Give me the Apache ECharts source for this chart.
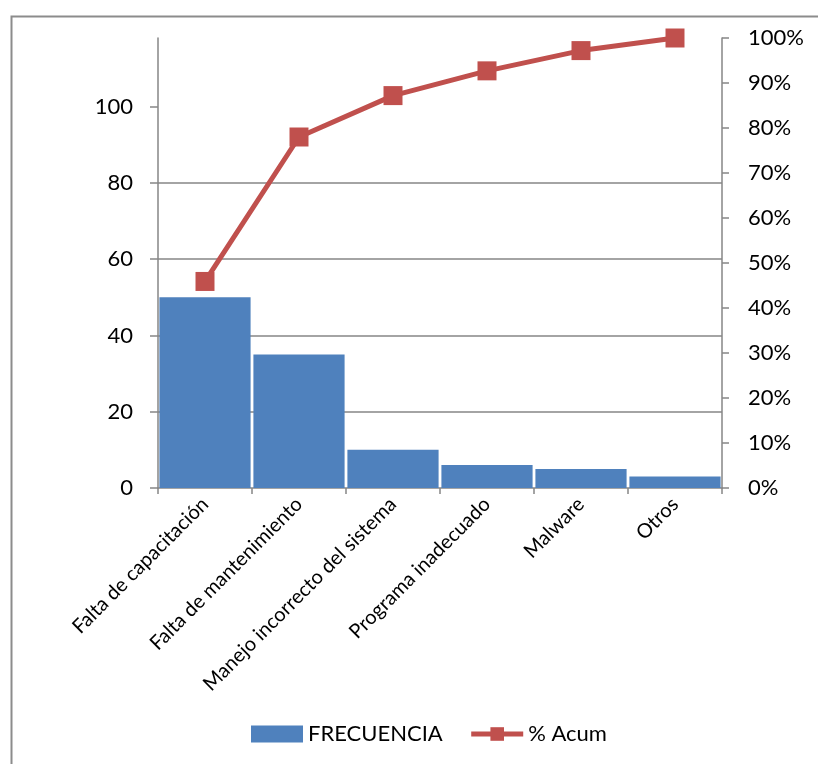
<!DOCTYPE html>
<html>
<head>
<meta charset="utf-8">
<script src="https://cdn.jsdelivr.net/npm/echarts@6/dist/echarts.min.js"></script>
<style>
  html, body { margin: 0; padding: 0; background: #ffffff; }
  #chart { width: 818px; height: 764px; }
</style>
</head>
<body>
<div id="chart"></div>
<script>
// Pareto de causas: frecuencia por causa y porcentaje acumulado
const categories = [
  'Falta de capacitación',
  'Falta de mantenimiento',
  'Manejo incorrecto del sistema',
  'Programa inadecuado',
  'Malware',
  'Otros'
];
const frecuencia = [50, 35, 10, 6, 5, 3];
const acumulado = [45.9, 78.0, 87.2, 92.7, 97.2, 100];
const leftTicks = [0, 20, 40, 60, 80, 100];

const FONT = 'Lato, "Open Sans", sans-serif';
const AXIS_GREY = '#868686';
const LINE_RED = '#C0504D';

const chart = echarts.init(document.getElementById('chart'), null, { renderer: 'canvas' });

chart.setOption({
  backgroundColor: '#ffffff',
  animation: false,
  textStyle: { fontFamily: FONT, color: '#000000' },
  graphic: [{
    type: 'rect',
    left: 9,
    top: 14,
    shape: { width: 840, height: 800 },
    style: { fill: 'none', stroke: '#8c8c8c', lineWidth: 2 },
    silent: true
  }],
  grid: { left: 158, right: 96, top: 38, bottom: 276 },
  legend: {
    bottom: 14,
    left: 246,
    itemGap: 26,
    itemWidth: 52,
    itemHeight: 17,
    textStyle: { fontFamily: FONT, fontSize: 22, color: '#000000' },
    data: [
      { name: 'FRECUENCIA', icon: 'rect' },
      { name: '% Acum', lineStyle: { width: 5, color: LINE_RED } }
    ]
  },
  xAxis: {
    type: 'category',
    data: categories,
    boundaryGap: true,
    axisLine: { lineStyle: { color: AXIS_GREY, width: 1.5 } },
    axisTick: { show: true, interval: 0, length: 6, alignWithLabel: false, lineStyle: { color: AXIS_GREY, width: 1.5 } },
    axisLabel: { interval: 0, rotate: 45, margin: 13, fontSize: 20, fontFamily: FONT, color: '#000000' }
  },
  yAxis: [
    {
      type: 'value',
      min: 0,
      max: 118,
      position: 'left',
      axisLine: { show: true, lineStyle: { color: AXIS_GREY, width: 1.5 } },
      axisTick: { show: true, length: 8, customValues: leftTicks, lineStyle: { color: AXIS_GREY, width: 1.5 } },
      axisLabel: { customValues: leftTicks, margin: 25, fontSize: 22, fontFamily: FONT, color: '#000000' },
      splitLine: { show: true, showMinLine: false, showMaxLine: false, lineStyle: { color: AXIS_GREY, width: 1.5 } }
    },
    {
      type: 'value',
      min: 0,
      max: 100,
      interval: 10,
      position: 'right',
      axisLine: { show: true, lineStyle: { color: AXIS_GREY, width: 1.5 } },
      axisTick: { show: true, length: 7, lineStyle: { color: AXIS_GREY, width: 1.5 } },
      axisLabel: { formatter: '{value}%', margin: 26, fontSize: 22, fontFamily: FONT, color: '#000000' },
      splitLine: { show: false }
    }
  ],
  series: [
    {
      name: 'FRECUENCIA',
      type: 'bar',
      data: frecuencia,
      barCategoryGap: '3%',
      itemStyle: { color: '#4F81BD' },
      z: 2
    },
    {
      name: '% Acum',
      type: 'line',
      yAxisIndex: 1,
      data: acumulado,
      symbol: 'rect',
      symbolSize: 19,
      lineStyle: { color: LINE_RED, width: 5 },
      itemStyle: { color: LINE_RED },
      z: 5
    }
  ]
});
</script>
</body>
</html>
